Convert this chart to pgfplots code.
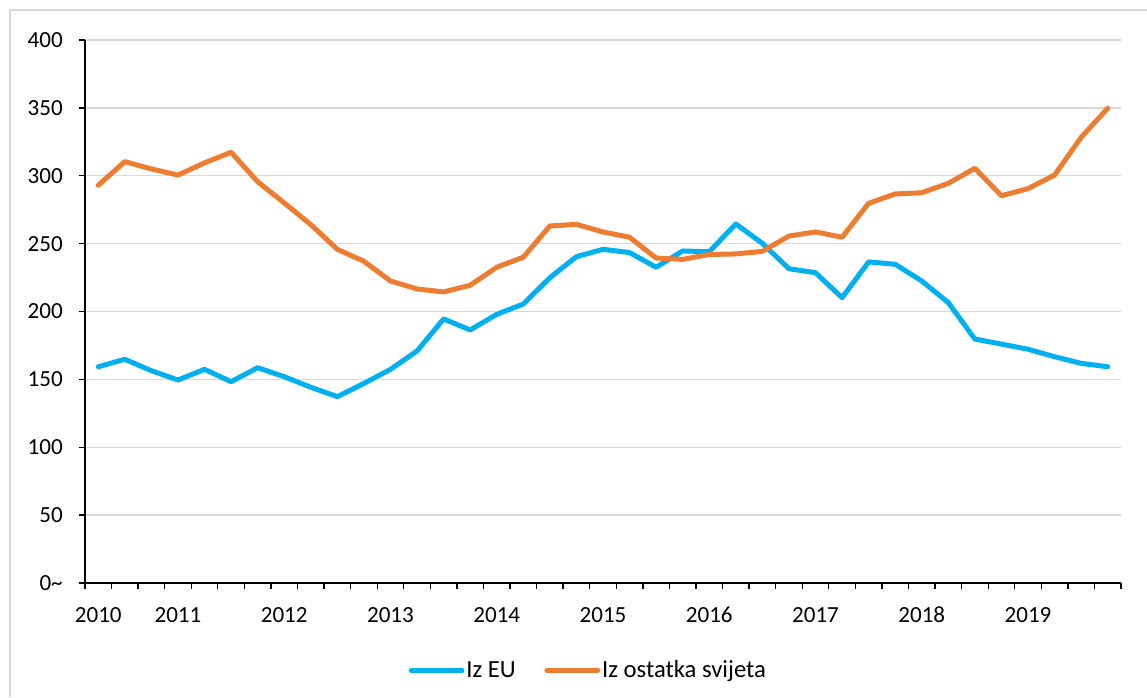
\documentclass[border=0pt]{standalone}
\usepackage{fontspec}
\setmainfont{Carlito}
\usepackage{pgfplots}
\pgfplotsset{compat=1.18}
\definecolor{cblue}{HTML}{00B0F0}
\definecolor{corange}{HTML}{ED7D31}
\definecolor{cgrid}{HTML}{D9D9D9}
\begin{document}
\begin{tikzpicture}
\path[use as bounding box] (0,0) rectangle (860.25pt,522.75pt);
\draw[cgrid, line width=1.2pt] (7.5pt,0) -- (7.5pt,515.25pt) -- (860.25pt,515.25pt);
\begin{axis}[
  at={(63.75pt,85.5pt)}, anchor=south west,
  width=777pt, height=407.25pt, scale only axis,
  font=\fontsize{17.3}{20}\selectfont,
  xmin=-0.5, xmax=38.5, ymin=0, ymax=400,
  axis lines=left, axis line style={-, line width=1pt, black},
  tick align=outside, major tick length=4.5pt,
  tick style={black, line width=1pt},
  ytick={0,50,...,400},
  yticklabels={0\textasciitilde,50,100,150,200,250,300,350,400},
  yticklabel style={anchor=east, inner sep=0pt, xshift=-12pt},
  xtick={-0.5,0.5,...,38.5},
  xticklabels={},
  extra x ticks={0,3,7,11,15,19,23,27,31,35},
  extra x tick labels={2010,2011,2012,2013,2014,2015,2016,2017,2018,2019},
  extra x tick style={major tick length=0pt, xticklabel style={anchor=base, inner sep=0pt, yshift=-29.5pt}},
  ymajorgrids, grid style={cgrid, line width=1pt},
  legend columns=2,
  legend style={at={(0.5,-0.133)}, anchor=north, xshift=-11pt, draw=none, fill=none,
    font=\fontsize{18.5}{21}\selectfont,
    nodes={inner xsep=1.5pt},
    /tikz/every even column/.append style={column sep=20pt}},
  legend image code/.code={\draw[#1, line cap=round] (0pt,0pt) -- (38pt,0pt);},
]
\addplot[cblue, line width=3.75pt, line join=round, line cap=round] coordinates {
(0,159.3) (1,164.8) (2,156.4) (3,149.5) (4,157.4) (5,148.3) (6,158.6) (7,152) (8,144.2) (9,137.3)
(10,147) (11,157.4) (12,170.9) (13,194.5) (14,186.4) (15,197.9) (16,205.5) (17,224.9) (18,240.4) (19,245.8)
(20,243.4) (21,232.6) (22,244.6) (23,244) (24,264.5) (25,250.2) (26,231.5) (27,228.6) (28,210.2) (29,236.5)
(30,234.8) (31,222.5) (32,206.5) (33,179.7) (34,176) (35,172.2) (36,166.7) (37,161.8) (38,159.3)
};
\addlegendentry{Iz EU}
\addplot[corange, line width=3.75pt, line join=round, line cap=round] coordinates {
(0,293) (1,310.4) (2,305) (3,300.5) (4,309.5) (5,317.3) (6,295.6) (7,280) (8,264) (9,245.8)
(10,237) (11,222.5) (12,216.6) (13,214.4) (14,219.3) (15,232.6) (16,240) (17,263) (18,264.2) (19,258.6)
(20,254.7) (21,239.4) (22,238.4) (23,242) (24,242.4) (25,244.3) (26,255.6) (27,258.6) (28,254.7) (29,279.7)
(30,286.6) (31,287.5) (32,294.4) (33,305.5) (34,285.3) (35,290.5) (36,300.5) (37,328.3) (38,349.7)
};
\addlegendentry{Iz ostatka svijeta}
\end{axis}
\end{tikzpicture}
\end{document}
